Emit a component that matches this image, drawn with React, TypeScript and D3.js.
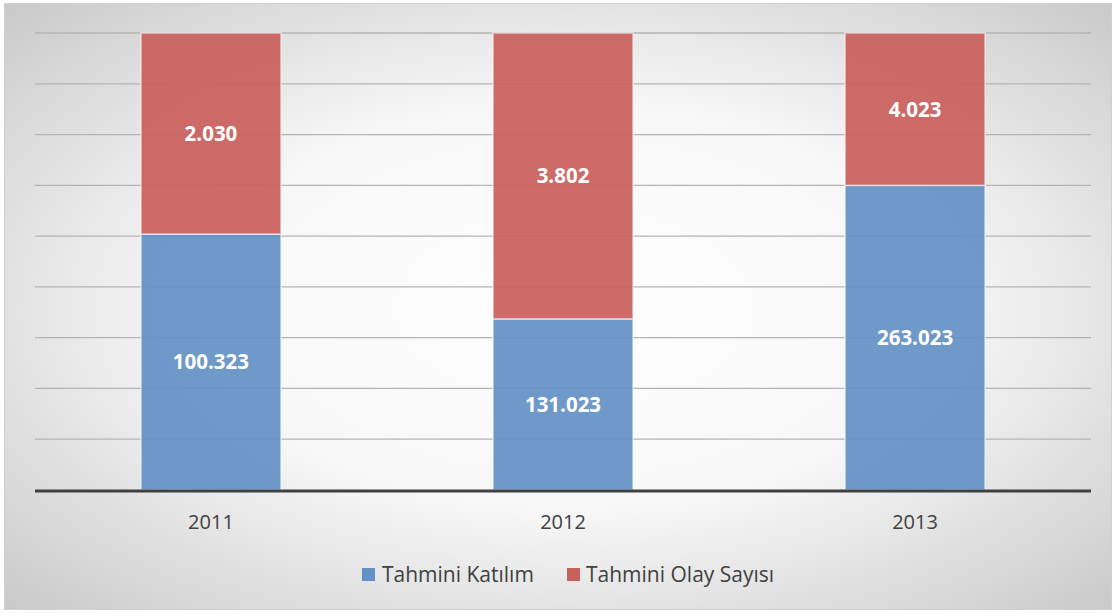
import React from "react";
import * as d3 from "d3";

const years = ["2011", "2012", "2013"];
const katilimShare = [5.04, 3.37, 6.0];
const olayShare = [3.96, 5.63, 3.0];
const katilimLabels = ["100.323", "131.023", "263.023"];
const olayLabels = ["2.030", "3.802", "4.023"];
const gridTicks = [0, 1, 2, 3, 4, 5, 6, 7, 8, 9];
const seriesNames = ["Tahmini Katılım", "Tahmini Olay Sayısı"];
const colors = ["#6391c5", "#c8605d"];

export default function App() {
  const W = 1115, H = 613;
  const left = 35, right = 1091, top = 33, bottom = 490;
  const x = d3.scaleBand<string>().domain(years).range([left, right]).paddingInner(0.6023).paddingOuter(0.301);
  const y = d3.scaleLinear().domain([0, 9]).range([bottom, top]);
  const font = "'Open Sans', 'Liberation Sans', sans-serif";
  const stacks = years.map((yr, i) => ({
    yr,
    segs: [
      { y0: 0, y1: katilimShare[i], label: katilimLabels[i], color: colors[0] },
      { y0: katilimShare[i], y1: katilimShare[i] + olayShare[i], label: olayLabels[i], color: colors[1] },
    ],
  }));
  return (
    <svg width={W} height={H} style={{ position: "absolute", left: 0, top: 0 }}>
      <defs>
        <radialGradient id="bg" cx="50%" cy="50%" r="75%" fx="52%" fy="50%">
          <stop offset="0%" stopColor="#ffffff" />
          <stop offset="45%" stopColor="#f7f7f7" />
          <stop offset="100%" stopColor="#c4c4c4" />
        </radialGradient>
      </defs>
      <rect x={0} y={0} width={W} height={H} fill="#ffffff" />
      <rect x={4.5} y={3.5} width={1107} height={606} fill="url(#bg)" stroke="#d0d0d0" strokeWidth={1} />
      {gridTicks.slice(1).map((t) => (
        <line key={t} x1={left} x2={right} y1={y(t)} y2={y(t)} stroke="#b4b4b4" strokeWidth={1.3} />
      ))}
      {stacks.map((s) =>
        s.segs.map((g, j) => (
          <g key={s.yr + j}>
            <rect
              x={x(s.yr)!}
              y={y(g.y1)}
              width={x.bandwidth()}
              height={y(g.y0) - y(g.y1)}
              fill={g.color}
              fillOpacity={0.93}
              stroke="#ffffff"
              strokeOpacity={0.6}
              strokeWidth={1.5}
            />
            <text
              x={x(s.yr)! + x.bandwidth() / 2}
              y={(y(g.y0) + y(g.y1)) / 2}
              dy="0.36em"
              textAnchor="middle"
              fill="#ffffff"
              fontFamily={font}
              fontWeight="bold"
              fontSize={20.5}
            >
              {g.label}
            </text>
          </g>
        ))
      )}
      <line x1={left} x2={right} y1={bottom + 1} y2={bottom + 1} stroke="#404040" strokeWidth={3} />
      {years.map((yr) => (
        <text
          key={yr}
          x={x(yr)! + x.bandwidth() / 2}
          y={529}
          textAnchor="middle"
          fill="#404040"
          fontFamily={font}
          fontSize={20}
        >
          {yr}
        </text>
      ))}
      <g fontFamily={font} fontSize={21} fill="#404040">
        <rect x={362} y={568} width={13} height={13} fill={colors[0]} />
        <text x={382} y={582}>{seriesNames[0]}</text>
        <rect x={567} y={568} width={13} height={13} fill={colors[1]} />
        <text x={586} y={582}>{seriesNames[1]}</text>
      </g>
    </svg>
  );
}
